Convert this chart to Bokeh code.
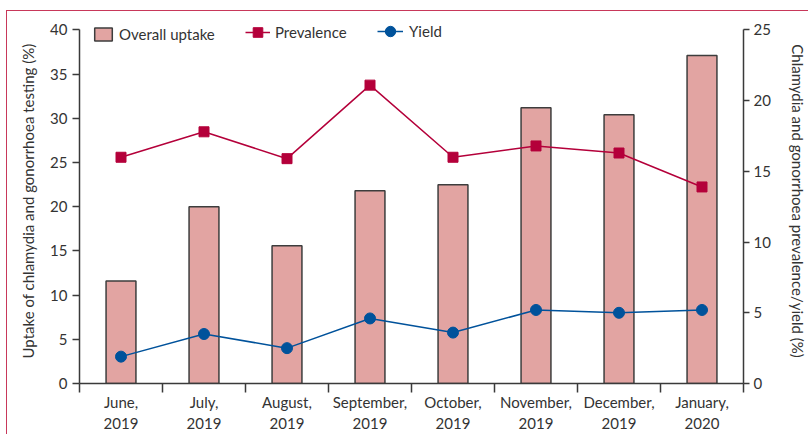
from bokeh.plotting import figure
from bokeh.models import Range1d, LinearAxis, FixedTicker, Legend, LegendItem
from bokeh.embed import file_html
from bokeh.resources import INLINE

# ---- data ----
months = ["June,\n2019", "July,\n2019", "August,\n2019", "September,\n2019",
          "October,\n2019", "November,\n2019", "December,\n2019", "January,\n2020"]
uptake = [11.6, 20.0, 15.6, 21.8, 22.5, 31.2, 30.4, 37.1]
prevalence = [16.0, 17.8, 15.9, 21.1, 16.0, 16.8, 16.3, 13.9]
yield_ = [1.9, 3.5, 2.5, 4.6, 3.6, 5.2, 5.0, 5.2]
left_ticks = [0, 5, 10, 15, 20, 25, 30, 35, 40]
right_ticks = [0, 5, 10, 15, 20, 25]
LEFT_MAX = 40
RIGHT_MAX = 25

FONT = "Lato"
TXT = "#333333"
AX = "#3a3a3a"
BAR_FILL = "#e2a4a2"
BAR_LINE = "#3d3d3d"
PREV = "#b4003a"
YLD = "#00529b"
FRAME = "#c8385a"

# headroom above the axes so the legend sits inside the plot frame
PAD = 1.3
left_end = LEFT_MAX + PAD
right_end = RIGHT_MAX * left_end / LEFT_MAX

xc = [i + 0.5 for i in range(len(months))]
bounds = list(range(len(months) + 1))

p = figure(width=802, height=424, output_backend="svg", toolbar_location=None,
           x_range=Range1d(0, len(months)), y_range=Range1d(0, left_end),
           x_axis_location=None, y_axis_location=None,
           min_border_left=72, min_border_right=60, min_border_top=7, min_border_bottom=52)
p.extra_y_ranges = {"right": Range1d(0, right_end)}
p.outline_line_color = None
p.xgrid.visible = False
p.ygrid.visible = False
p.styles = {"margin-left": "6px", "margin-top": "10px",
            "border-top": "1.5px solid " + FRAME, "border-left": "1.5px solid " + FRAME}


def style_axis(ax, size="15px"):
    ax.axis_line_color = AX
    ax.axis_line_width = 1.5
    ax.major_tick_line_color = AX
    ax.major_tick_line_width = 1.5
    ax.minor_tick_line_color = AX
    ax.minor_tick_line_width = 1.5
    ax.major_label_text_font = FONT
    ax.major_label_text_font_size = size
    ax.major_label_text_color = TXT
    ax.axis_label_text_font = FONT
    ax.axis_label_text_font_size = "15px"
    ax.axis_label_text_font_style = "normal"
    ax.axis_label_text_color = TXT


left = LinearAxis(ticker=FixedTicker(ticks=left_ticks), bounds=(0, LEFT_MAX),
                  axis_label="Uptake of chlamydia and gonorrhoea testing (%)")
style_axis(left)
left.major_tick_out = 7
left.major_tick_in = 0
left.minor_tick_out = 0
left.major_label_standoff = 5
left.axis_label_standoff = 10
p.add_layout(left, "left")

right = LinearAxis(y_range_name="right", ticker=FixedTicker(ticks=right_ticks),
                   bounds=(0, RIGHT_MAX),
                   axis_label="Chlamydia and gonorrhoea prevalence/yield (%)")
style_axis(right)
right.major_tick_out = 6
right.major_tick_in = 0
right.minor_tick_out = 0
right.major_label_standoff = 4
right.axis_label_standoff = 15
p.add_layout(right, "right")

bottom = LinearAxis(ticker=FixedTicker(ticks=xc, minor_ticks=bounds),
                    major_label_overrides={x: m for x, m in zip(xc, months)})
style_axis(bottom, "15px")
bottom.major_tick_out = 0
bottom.major_tick_in = 0
bottom.minor_tick_out = 9
bottom.minor_tick_in = 0
bottom.major_label_standoff = 0
p.add_layout(bottom, "below")

bars = p.vbar(x=xc, top=uptake, width=0.36, fill_color=BAR_FILL, line_color=BAR_LINE,
              line_width=1.5)
pl = p.line(xc, prevalence, y_range_name="right", line_color=PREV, line_width=1.5)
ps = p.scatter(xc, prevalence, y_range_name="right", marker="square", size=10,
               fill_color=PREV, line_color=PREV)
yl = p.line(xc, yield_, y_range_name="right", line_color=YLD, line_width=1.5)
ys = p.scatter(xc, yield_, y_range_name="right", marker="circle", size=11,
               fill_color=YLD, line_color=YLD)


def make_legend(label, renderers, x, y, gw, gh, standoff):
    lg = Legend(items=[LegendItem(label=label, renderers=renderers)],
                location=(x, y), orientation="horizontal",
                glyph_width=gw, glyph_height=gh, label_standoff=standoff,
                padding=0, margin=0, spacing=0,
                border_line_color=None, background_fill_alpha=0,
                label_text_font=FONT, label_text_font_size="15px",
                label_text_color=TXT, label_height=20)
    p.add_layout(lg, "center")


make_legend("Overall uptake", [bars], 13, 339, 22, 16, 5)
make_legend("Prevalence", [pl, ps], 166, 339, 25, 24, 5)
make_legend("Yield", [yl, ys], 298, 339, 26, 26, 6)

open("out.html", "w").write(file_html(p, INLINE))
